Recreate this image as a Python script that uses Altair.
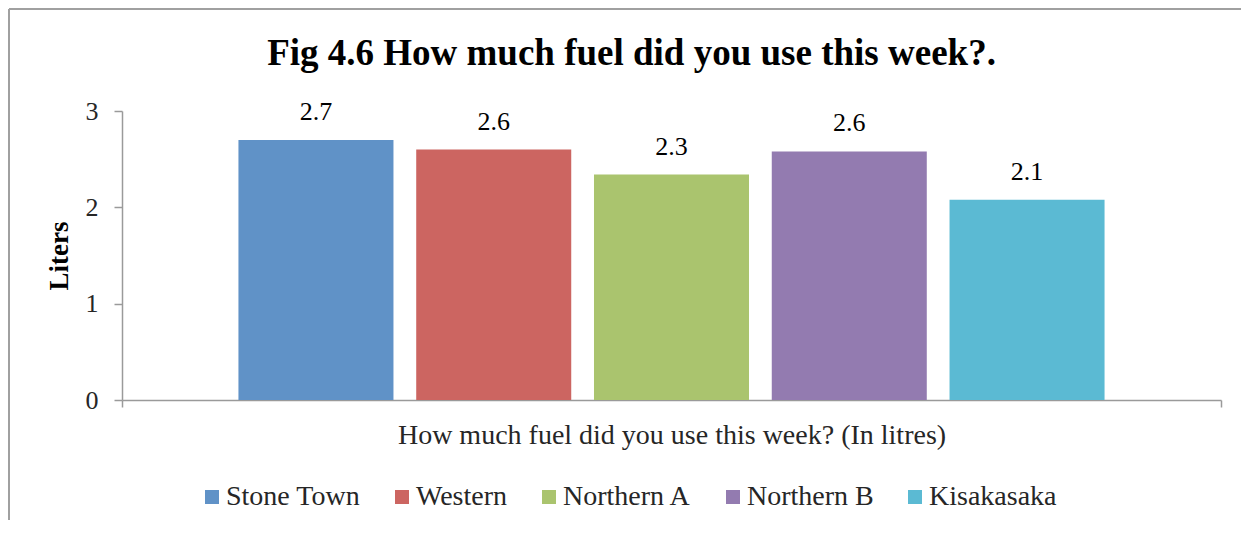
import altair as alt
import pandas as pd

regions = ["Stone Town", "Western", "Northern A", "Northern B", "Kisakasaka"]
liters = [2.70, 2.60, 2.34, 2.58, 2.08]
colors = ["#6092C7", "#CC6561", "#AAC46E", "#937BB0", "#5BBAD3"]
question = "How much fuel did you use this week? (In litres)"
title_text = "Fig 4.6 How much fuel did you use this week?."
y_ticks = [0, 1, 2, 3]

df = pd.DataFrame({"question": [question] * len(regions), "region": regions, "liters": liters})

serif = "Liberation Serif"
axis_gray = "#9a9a9a"

x_enc = alt.X(
    "question:N",
    title=None,
    scale=alt.Scale(paddingInner=0, paddingOuter=0),
    axis=alt.Axis(
        tickBand="extent", tickSize=7, labelPadding=14, labelFontSize=28,
        labelFont=serif, labelColor="#262626", domainColor=axis_gray,
        tickColor=axis_gray, labelAngle=0, domainWidth=1.5, tickWidth=1.5,
        labelLimit=2000,
    ),
)
xo_enc = alt.XOffset(
    "region:N", sort=regions,
    scale=alt.Scale(paddingInner=0.128, paddingOuter=0.655),
)
y_enc = alt.Y(
    "liters:Q",
    title="Liters",
    scale=alt.Scale(domain=[0, 3], nice=False),
    axis=alt.Axis(
        values=y_ticks, format="d", grid=False, tickSize=8, labelPadding=16,
        labelFontSize=26, labelFont=serif, labelColor="#262626",
        domainColor=axis_gray, tickColor=axis_gray, domainWidth=1.5, tickWidth=1.5,
        titleFont=serif, titleFontSize=27, titleFontWeight="bold",
        titleColor="black", titlePadding=12,
    ),
)
color_enc = alt.Color(
    "region:N", sort=regions,
    scale=alt.Scale(domain=regions, range=colors),
    legend=alt.Legend(
        title=None, orient="none", direction="horizontal", legendX=76, legendY=372,
        symbolType="square", symbolSize=196, symbolStrokeWidth=0,
        labelFontSize=28, labelFont=serif, labelColor="#262626",
        labelOffset=0, columnPadding=27, padding=0, columns=5,
    ),
)

bars = alt.Chart(df).mark_bar().encode(x=x_enc, xOffset=xo_enc, y=y_enc, color=color_enc)

labels = alt.Chart(df).mark_text(
    baseline="alphabetic", dy=-20, fontSize=26, font=serif, color="black"
).encode(
    x=alt.X("question:N"),
    xOffset=alt.XOffset("region:N", sort=regions),
    y=alt.Y("liters:Q"),
    text=alt.Text("liters:Q", format=".1f"),
)

frame_df = pd.DataFrame({"k": [0]})
frame_top = alt.Chart(frame_df).mark_rule(color="#a0a0a0", strokeWidth=2).encode(
    x=alt.value(-113), x2=alt.value(1119), y=alt.value(-102)
)
frame_left = alt.Chart(frame_df).mark_rule(color="#a0a0a0", strokeWidth=2).encode(
    x=alt.value(-113), y=alt.value(-102), y2=alt.value(409)
)

chart = (
    alt.layer(frame_top, frame_left, bars, labels)
    .properties(
        width=1099,
        height=289,
        padding={"left": 114, "top": 103, "right": 20, "bottom": 120},
        autosize=alt.AutoSizeParams(type="none"),
        title=alt.Title(
            title_text, font=serif, fontSize=37, fontWeight="bold", color="black",
            anchor="middle", dx=-40, dy=94, offset=0, baseline="alphabetic",
        ),
    )
    .configure_view(stroke=None)
)

chart.save("out.html", embed_options={"renderer": "svg", "actions": False})
